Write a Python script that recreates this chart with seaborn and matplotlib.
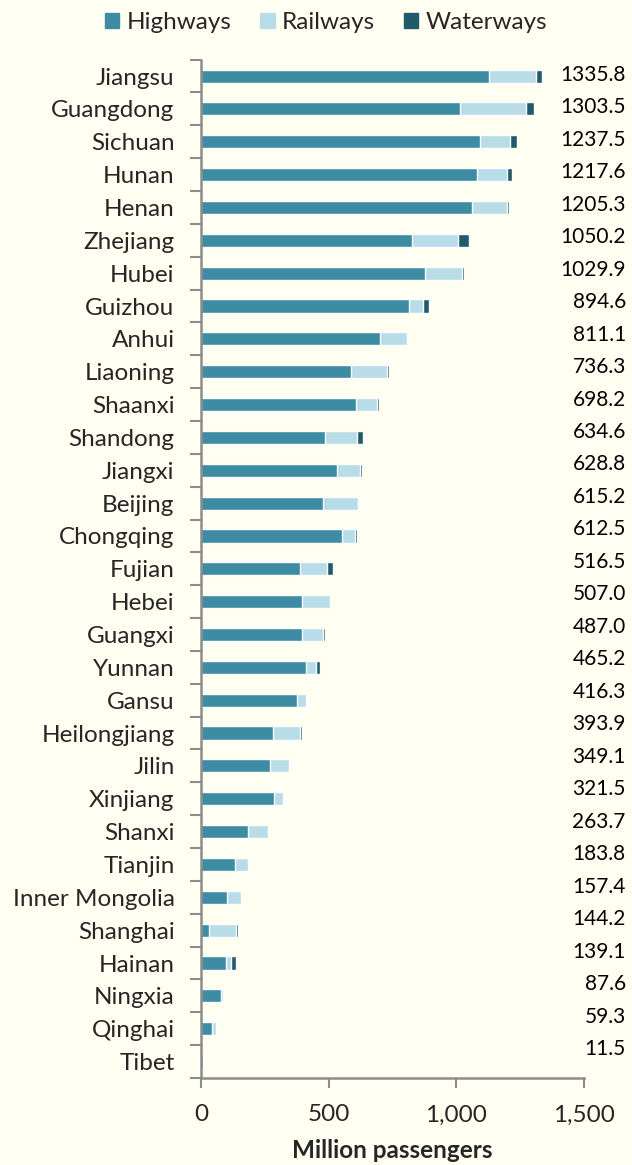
import numpy as np
import pandas as pd
import matplotlib
matplotlib.use("Agg")
import matplotlib.pyplot as plt
import seaborn as sns
from matplotlib.patches import Patch
from matplotlib.ticker import FuncFormatter, FixedLocator

provinces = [
    "Jiangsu", "Guangdong", "Sichuan", "Hunan", "Henan", "Zhejiang", "Hubei",
    "Guizhou", "Anhui", "Liaoning", "Shaanxi", "Shandong", "Jiangxi", "Beijing",
    "Chongqing", "Fujian", "Hebei", "Guangxi", "Yunnan", "Gansu", "Heilongjiang",
    "Jilin", "Xinjiang", "Shanxi", "Tianjin", "Inner Mongolia", "Shanghai",
    "Hainan", "Ningxia", "Qinghai", "Tibet",
]
totals = [
    1335.8, 1303.5, 1237.5, 1217.6, 1205.3, 1050.2, 1029.9, 894.6, 811.1, 736.3,
    698.2, 634.6, 628.8, 615.2, 612.5, 516.5, 507.0, 487.0, 465.2, 416.3, 393.9,
    349.1, 321.5, 263.7, 183.8, 157.4, 144.2, 139.1, 87.6, 59.3, 11.5,
]
highways = [
    1129, 1016, 1094, 1081, 1060, 825, 878, 816, 700, 586, 607, 484, 531, 477,
    552, 388, 395, 395, 410, 376, 281, 270, 287, 184, 133, 100, 31, 98, 77, 44, 7,
]
railways = [
    182, 256, 116, 116, 138, 183, 143, 55, 105, 142, 84, 128, 91, 138, 50, 105,
    110, 83, 39, 36, 106, 75, 34.5, 77, 50, 57, 106, 20, 10, 15, 4.5,
]
waterways = [
    24.8, 31.5, 27.5, 20.6, 7.3, 42.2, 8.9, 23.6, 6.1, 8.3, 7.2, 22.6, 6.8, 0.2,
    10.5, 23.5, 2.0, 9.0, 16.2, 4.3, 6.9, 4.1, 0.0, 2.7, 0.8, 0.4, 7.2, 21.1,
    0.6, 0.3, 0.0,
]

c_hw = "#3d8ca3"
c_rail = "#b8dde9"
c_water = "#215b6b"
bg = "#fffff2"
grey = "#8c8c8c"

df = pd.DataFrame({
    "Province": provinces,
    "Highways": highways,
    "Railways": railways,
    "Waterways": waterways,
    "Total": totals,
})
df["hw_rail"] = df["Highways"] + df["Railways"]
df["all"] = df["hw_rail"] + df["Waterways"]

sns.set_theme(style="white")
plt.rcParams["font.family"] = ["Lato", "DejaVu Sans"]

fig = plt.figure(figsize=(6.32, 11.65), dpi=100, facecolor=bg)
ax = fig.add_axes([0.318, 0.0747, 0.606, 0.8741])
ax.set_facecolor(bg)

# stacked bars: draw cumulative totals back to front
sns.barplot(data=df, y="Province", x="all", color=c_water, width=0.4,
            saturation=1, ax=ax, orient="h")
sns.barplot(data=df, y="Province", x="hw_rail", color=c_rail, width=0.4,
            saturation=1, ax=ax, orient="h")
sns.barplot(data=df, y="Province", x="Highways", color=c_hw, width=0.4,
            saturation=1, ax=ax, orient="h")

n = len(provinces)
ax.set_xlim(0, 1500)
ax.set_ylim(n - 0.5, -0.5)

# total labels sit in a column slightly tighter than the bars
for i, t in enumerate(totals):
    ax.text(1664, i * 0.9887 - 0.04, f"{t:.1f}", ha="right", va="center",
            fontsize=15, color="black", clip_on=False)

ax.xaxis.set_major_locator(FixedLocator([0, 500, 1000, 1500]))
ax.xaxis.set_major_formatter(FuncFormatter(lambda v, p: f"{v:,.0f}"))
ax.tick_params(axis="x", direction="out", length=7, width=1.5, color=grey,
               labelsize=17.5, pad=12, bottom=True)
ax.tick_params(axis="y", which="major", length=0, labelsize=17.5, pad=19)
ax.set_yticks(np.arange(n + 1) - 0.5, minor=True)
ax.tick_params(axis="y", which="minor", direction="out", length=8, width=1.5,
               color=grey, left=True)

ax.set_xlabel("Million passengers", fontsize=17.5, fontweight="bold",
              labelpad=10)
ax.set_ylabel("")

for s in ["top", "right"]:
    ax.spines[s].set_visible(False)
for s in ["left", "bottom"]:
    ax.spines[s].set_color(grey)
    ax.spines[s].set_linewidth(1.8)

handles = [Patch(color=c_hw, label="Highways"),
           Patch(color=c_rail, label="Railways"),
           Patch(color=c_water, label="Waterways")]
fig.legend(handles=handles, loc="center", bbox_to_anchor=(0.516, 0.9805), ncol=3,
           frameon=False, fontsize=17.5, handlelength=0.58, handleheight=0.58,
           handletextpad=0.3, columnspacing=1.2)

fig.savefig("out.png", dpi=100, facecolor=bg)
